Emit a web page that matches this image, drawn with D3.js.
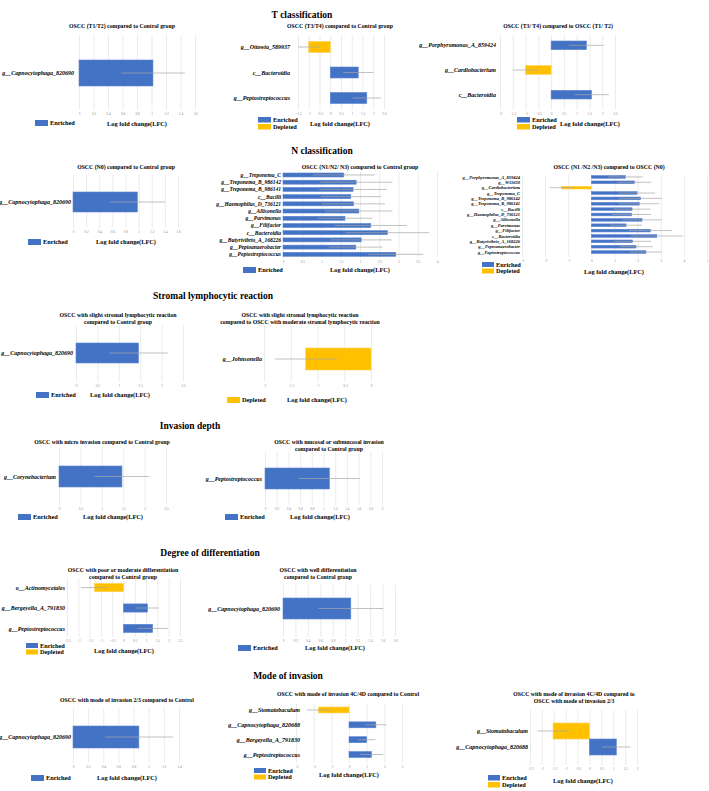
<!DOCTYPE html>
<html>
<head>
<meta charset="utf-8">
<script src="https://cdn.jsdelivr.net/npm/d3@7"></script>
<style>
body { margin: 0; background: #fff; }
svg text { font-family: "Liberation Serif", "Times New Roman", serif; }
</style>
</head>
<body>
<div id="fig"></div>
<script>
// ---- data ----
var t12Cats = ["g__Capnocytophaga_820690"];
var t12Vals = [1.02];
var t12Errs = [0.44];
var t12Ticks = [0, 0.2, 0.4, 0.6, 0.8, 1, 1.2, 1.4, 1.6];

var t34Cats = ["g__Ottowia_589937", "c__Bacteroidia", "g__Peptostreptococcus"];
var t34Vals = [-1.0, 1.3, 1.7];
var t34Errs = [0.5, 0.7, 0.65];
var t34Ticks = [-1.5, -1, -0.5, 0, 0.5, 1, 1.5, 2, 2.5];

var tTTCats = ["g__Porphyromonas_A_859424", "g__Cardiobacterium", "c__Bacteroidia"];
var tTTVals = [1.38, -1.0, 1.58];
var tTTErs = [0.68, 0.5, 0.68];
var tTTTicks = [-2, -1.5, -1, -0.5, 0, 0.5, 1, 1.5, 2, 2.5];

var n0Cats = ["g__Capnocytophaga_820690"];
var n0Vals = [0.98];
var n0Errs = [0.42];
var n0Ticks = [0, 0.2, 0.4, 0.6, 0.8, 1, 1.2, 1.4, 1.6];

var nCats = ["g__Treponema_C", "g__Treponema_B_986142", "g__Treponema_B_986141", "c__Bacilli",
  "g__Haemophilus_D_736121", "g__Allisonella", "g__Parvimonas", "g__Filifactor", "c__Bacteroidia",
  "g__Butyrivibrio_A_168226", "g__Peptoanaerobacter", "g__Peptostreptococcus"];
var nVals = [1.58, 1.90, 1.82, 1.76, 1.83, 1.97, 1.61, 2.28, 2.71, 2.03, 1.89, 2.93];
var nErrs = [0.80, 0.94, 0.88, 0.78, 0.82, 0.87, 0.71, 0.94, 1.09, 0.79, 0.70, 0.71];
var nTicks = [0, 0.5, 1, 1.5, 2, 2.5, 3, 3.5, 4];

var nn0Cats = ["g__Porphyromonas_A_859424", "g__W11650", "g__Cardiobacterium", "g__Treponema_C",
  "g__Treponema_B_986142", "g__Treponema_B_986141", "c__Bacilli", "g__Haemophilus_D_736121",
  "g__Allisonella", "g__Parvimonas", "g__Filifactor", "c__Bacteroidia", "g__Butyrivibrio_A_168226",
  "g__Peptoanaerobacter", "g__Peptostreptococcus"];
var nn0Vals = [1.47, 1.86, -1.29, 1.97, 2.12, 2.07, 1.76, 1.74, 2.19, 1.50, 2.55, 2.83, 1.78, 1.93, 2.36];
var nn0Errs = [0.75, 0.72, 0.52, 0.79, 0.93, 0.87, 0.79, 0.84, 0.86, 0.69, 0.93, 1.13, 0.80, 0.72, 0.69];
var nn0Ticks = [-3, -2, -1, 0, 1, 2, 3, 4, 5];

var slCtrlCats = ["g__Capnocytophaga_820690"];
var slCtrlVals = [1.46];
var slCtrlErrs = [0.68];
var slCtrlTicks = [0, 0.5, 1, 1.5, 2, 2.5];

var slModCats = ["g__Johnsonella"];
var slModVals = [-1.22];
var slModErrs = [0.58];
var slModTicks = [-2, -1.5, -1, -0.5, 0];

var microCats = ["g__Corynebacterium"];
var microVals = [1.47];
var microErrs = [0.64];
var microTicks = [0, 0.5, 1, 1.5, 2, 2.5];

var mucCats = ["g__Peptostreptococcus"];
var mucVals = [1.1];
var mucErrs = [0.52];
var mucTicks = [0, 0.2, 0.4, 0.6, 0.8, 1, 1.2, 1.4, 1.6, 1.8, 2];

var poorCats = ["o__Actinomycetales", "g__Bergeyella_A_791830", "g__Peptostreptococcus"];
var poorVals = [-1.28, 1.06, 1.29];
var poorErrs = [0.6, 0.5, 0.67];
var poorTicks = [-2.5, -2, -1.5, -1, -0.5, 0, 0.5, 1, 1.5, 2, 2.5];

var wellCats = ["g__Capnocytophaga_820690"];
var wellVals = [1.09];
var wellErrs = [0.52];
var wellTicks = [0, 0.2, 0.4, 0.6, 0.8, 1, 1.2, 1.4, 1.6, 1.8];

var m23Cats = ["g__Capnocytophaga_820690"];
var m23Vals = [0.87];
var m23Errs = [0.45];
var m23Ticks = [0, 0.2, 0.4, 0.6, 0.8, 1, 1.2, 1.4];

var m4Cats = ["g__Stomatobaculum", "g__Capnocytophaga_820688", "g__Bergeyella_A_791830", "g__Peptostreptococcus"];
var m4Vals = [-1.73, 1.52, 1.0, 1.27];
var m4Errs = [0.65, 0.6, 0.5, 0.66];
var m4Ticks = [-3, -2, -1, 0, 1, 2, 3];

var m4v23Cats = ["g__Stomatobaculum", "g__Capnocytophaga_820688"];
var m4v23Vals = [-1.53, 1.13];
var m4v23Errs = [0.67, 0.6];
var m4v23Ticks = [-2.5, -2, -1.5, -1, -0.5, 0, 0.5, 1, 1.5, 2];

var sections = ["T classification", "N classification", "Stromal lymphocytic reaction",
  "Invasion depth", "Degree of differentiation", "Mode of invasion"];

// ---- drawing ----
var BLUE = "#4472c4", GOLD = "#ffc000", ERR = "#a6a6a6", GRID = "#dedede";
var EN = {label: "Enriched", color: BLUE}, DE = {label: "Depleted", color: GOLD};

var svg = d3.select("#fig").append("svg")
    .attr("width", 709)
    .attr("height", 791);

svg.append("rect").attr("width", 709).attr("height", 791).attr("fill", "#fff");

var secPos = [[302, 18], [322, 154], [213, 299], [190, 429], [210, 556], [288, 679]];
svg.selectAll(".sec").data(sections).enter().append("text")
    .attr("class", "sec")
    .attr("x", function(d, i) { return secPos[i][0]; })
    .attr("y", function(d, i) { return secPos[i][1]; })
    .attr("text-anchor", "middle")
    .style("font-weight", "bold")
    .style("font-size", "9.5px")
    .text(function(d) { return d; });

function drawPanel(p) {
    var g = svg.append("g");
    var x = d3.scaleLinear()
        .domain([p.ticks[0], p.ticks[p.ticks.length - 1]])
        .range(p.xr);
    var y = d3.scaleBand()
        .domain(p.cats)
        .range(p.yr)
        .paddingInner(p.pad || 0)
        .paddingOuter(0);

    // gridlines + tick labels from the axis
    var ax = g.append("g")
        .attr("transform", "translate(0," + p.gy[1] + ")")
        .call(d3.axisBottom(x).tickValues(p.ticks).tickSize(-(p.gy[1] - p.gy[0])).tickPadding(2.5)
            .tickFormat(function(d) { return d3.format("")(d); }));
    ax.select(".domain").remove();
    ax.selectAll("line").attr("stroke", GRID).attr("stroke-width", 0.6);
    ax.selectAll("text").attr("fill", "#888").style("font-size", "3.4px")
        .style("font-family", "'Liberation Serif', serif");

    var rows = p.cats.map(function(c, i) { return {c: c, v: p.vals[i], e: p.errs[i]}; });

    g.selectAll(".bar").data(rows).enter().append("rect")
        .attr("x", function(d) { return x(Math.min(0, d.v)); })
        .attr("width", function(d) { return Math.abs(x(d.v) - x(0)); })
        .attr("y", function(d) { return y(d.c); })
        .attr("height", y.bandwidth())
        .attr("fill", function(d) { return d.v < 0 ? GOLD : BLUE; })
        .attr("stroke", function(d) { return d.v < 0 ? "#ffd04d" : "#5b85d0"; })
        .attr("stroke-width", 0.6);

    g.selectAll(".err").data(rows).enter().append("line")
        .attr("x1", function(d) { return x(d.v - d.e); })
        .attr("x2", function(d) { return x(d.v + d.e); })
        .attr("y1", function(d) { return y(d.c) + y.bandwidth() / 2; })
        .attr("y2", function(d) { return y(d.c) + y.bandwidth() / 2; })
        .attr("stroke", ERR)
        .attr("stroke-width", 0.7);

    g.selectAll(".cat").data(rows).enter().append("text")
        .attr("x", p.lx)
        .attr("y", function(d) { return y(d.c) + y.bandwidth() / 2; })
        .attr("dy", "0.35em")
        .attr("text-anchor", "end")
        .style("font-size", (p.lfs || 6) + "px")
        .style("font-weight", "bold")
        .style("font-style", "italic")
        .text(function(d) { return d.c; });

    g.selectAll(".ttl").data(p.title).enter().append("text")
        .attr("x", p.tp[0])
        .attr("y", function(d, i) { return p.tp[1] + i * 7; })
        .attr("text-anchor", "middle")
        .style("font-size", "5.8px")
        .style("font-weight", "bold")
        .text(function(d) { return d; });

    var sw = p.sw || [13, 6];
    var leg = g.selectAll(".leg").data(p.leg).enter().append("g")
        .attr("transform", function(d, i) { return "translate(" + p.lg[0] + "," + (p.lg[1] + i * (sw[1] + 1.5)) + ")"; });
    leg.append("rect").attr("width", sw[0]).attr("height", sw[1])
        .attr("fill", function(d) { return d.color; });
    leg.append("text").attr("x", sw[0] + 2).attr("y", sw[1] / 2).attr("dy", "0.35em")
        .style("font-size", "6.3px").style("font-weight", "bold")
        .text(function(d) { return d.label; });

    g.append("text")
        .attr("x", p.lfc[0]).attr("y", p.lfc[1])
        .attr("text-anchor", "middle")
        .style("font-size", "6.3px").style("font-weight", "bold")
        .text("Log fold change(LFC)");
}

var panels = [
  {cats: t12Cats, vals: t12Vals, errs: t12Errs, ticks: t12Ticks, xr: [79, 195], gy: [35, 110], yr: [60, 86],
   lx: 74, title: ["OSCC  (T1/T2) compared to Control group"], tp: [122, 28], leg: [EN], lg: [35, 120], lfc: [137, 126]},
  {cats: t34Cats, vals: t34Vals, errs: t34Errs, ticks: t34Ticks, xr: [298, 384], gy: [35, 110], yr: [41.5, 103.5], pad: 0.57,
   lx: 290, title: ["OSCC (T3/T4) compared to Control group"], tp: [340, 28], leg: [EN, DE], lg: [258, 117], sw: [13, 5.5], lfc: [340, 126]},
  {cats: tTTCats, vals: tTTVals, errs: tTTErs, ticks: tTTTicks, xr: [500, 615], gy: [35, 110], yr: [41, 99], pad: 0.65,
   lx: 496, title: ["OSCC (T3/ T4) compared to OSCC (T1/ T2)"], tp: [558, 28], leg: [EN, DE], lg: [517, 117], sw: [13, 5.5], lfc: [590, 126]},
  {cats: n0Cats, vals: n0Vals, errs: n0Errs, ticks: n0Ticks, xr: [73, 178], gy: [175, 228], yr: [192, 212],
   lx: 71, title: ["OSCC (N0) compared to Control group"], tp: [126, 169], leg: [EN], lg: [28, 239], lfc: [126, 244]},
  {cats: nCats, vals: nVals, errs: nErrs, ticks: nTicks, xr: [283, 437], gy: [172, 258], yr: [173, 256.3], pad: 0.45,
   lx: 281, lfs: 5.5, title: ["OSCC (N1/N2/ N3) compared to Control group"], tp: [360, 169], leg: [EN], lg: [243, 267], lfc: [360, 272]},
  {cats: nn0Cats, vals: nn0Vals, errs: nn0Errs, ticks: nn0Ticks, xr: [522, 707], gy: [175, 257], yr: [175.6, 253.4], pad: 0.5,
   lx: 520, lfs: 4.5, title: ["OSCC (N1 /N2 /N3)  compared to OSCC (N0)"], tp: [609, 169], leg: [EN, DE], lg: [482, 262], sw: [12, 5], lfc: [614, 274]},
  {cats: slCtrlCats, vals: slCtrlVals, errs: slCtrlErrs, ticks: slCtrlTicks, xr: [76, 183], gy: [325, 382], yr: [343, 363],
   lx: 73, title: ["OSCC with slight stromal lymphocytic reaction", "compared to Control group"], tp: [118, 317], leg: [EN], lg: [36, 392], lfc: [120, 397]},
  {cats: slModCats, vals: slModVals, errs: slModErrs, ticks: slModTicks, xr: [264, 371], gy: [325, 382], yr: [348, 370],
   lx: 262, title: ["OSCC with slight stromal lymphocytic reaction", "compared to OSCC with moderate stromal lymphocytic reaction"], tp: [300, 317], leg: [DE], lg: [227, 397], lfc: [317, 402]},
  {cats: microCats, vals: microVals, errs: microErrs, ticks: microTicks, xr: [59, 166], gy: [448, 505], yr: [466, 487],
   lx: 56, title: ["OSCC with micro invasion  compared to Control group"], tp: [102, 444], leg: [EN], lg: [18, 514], lfc: [113, 519]},
  {cats: mucCats, vals: mucVals, errs: mucErrs, ticks: mucTicks, xr: [265, 382], gy: [452, 505], yr: [468, 489],
   lx: 262, title: ["OSCC with mucosal or submucosal invasion", "compared to Control group"], tp: [329, 444], leg: [EN], lg: [225, 514], lfc: [320, 519]},
  {cats: poorCats, vals: poorVals, errs: poorErrs, ticks: poorTicks, xr: [67, 180], gy: [578, 637], yr: [583.5, 632.5], pad: 0.6,
   lx: 65, title: ["OSCC with poor or moderate differentiation", "compared to Control group"], tp: [123, 572], leg: [EN, DE], lg: [26, 643], sw: [12, 5], lfc: [124, 653]},
  {cats: wellCats, vals: wellVals, errs: wellErrs, ticks: wellTicks, xr: [283, 395], gy: [585, 637], yr: [598, 619],
   lx: 280, title: ["OSCC with well differentiation", "compared to Control group"], tp: [318, 572], leg: [EN], lg: [238, 645], lfc: [335, 650]},
  {cats: m23Cats, vals: m23Vals, errs: m23Errs, ticks: m23Ticks, xr: [73, 179], gy: [708, 763], yr: [726, 748],
   lx: 71, title: ["OSCC with mode of invasion 2/3 compared to Control"], tp: [127, 702], leg: [EN], lg: [31, 775], lfc: [127, 780]},
  {cats: m4Cats, vals: m4Vals, errs: m4Errs, ticks: m4Ticks, xr: [296, 402], gy: [703, 763], yr: [707, 757.5], pad: 0.6,
   lx: 300, title: ["OSCC with mode of invasion 4C/4D compared to Control"], tp: [348, 696], leg: [EN, DE], lg: [254, 768], sw: [12, 5], lfc: [349, 777]},
  {cats: m4v23Cats, vals: m4v23Vals, errs: m4v23Errs, ticks: m4v23Ticks, xr: [530, 637], gy: [710, 765], yr: [723, 755],
   lx: 528, title: ["OSCC with mode of invasion 4C/4D compared to", "OSCC with mode of invasion 2/3"], tp: [574, 696], leg: [EN, DE], lg: [488, 775], sw: [12, 5.5], lfc: [583, 783]}
];

panels.forEach(drawPanel);
</script>
</body>
</html>
